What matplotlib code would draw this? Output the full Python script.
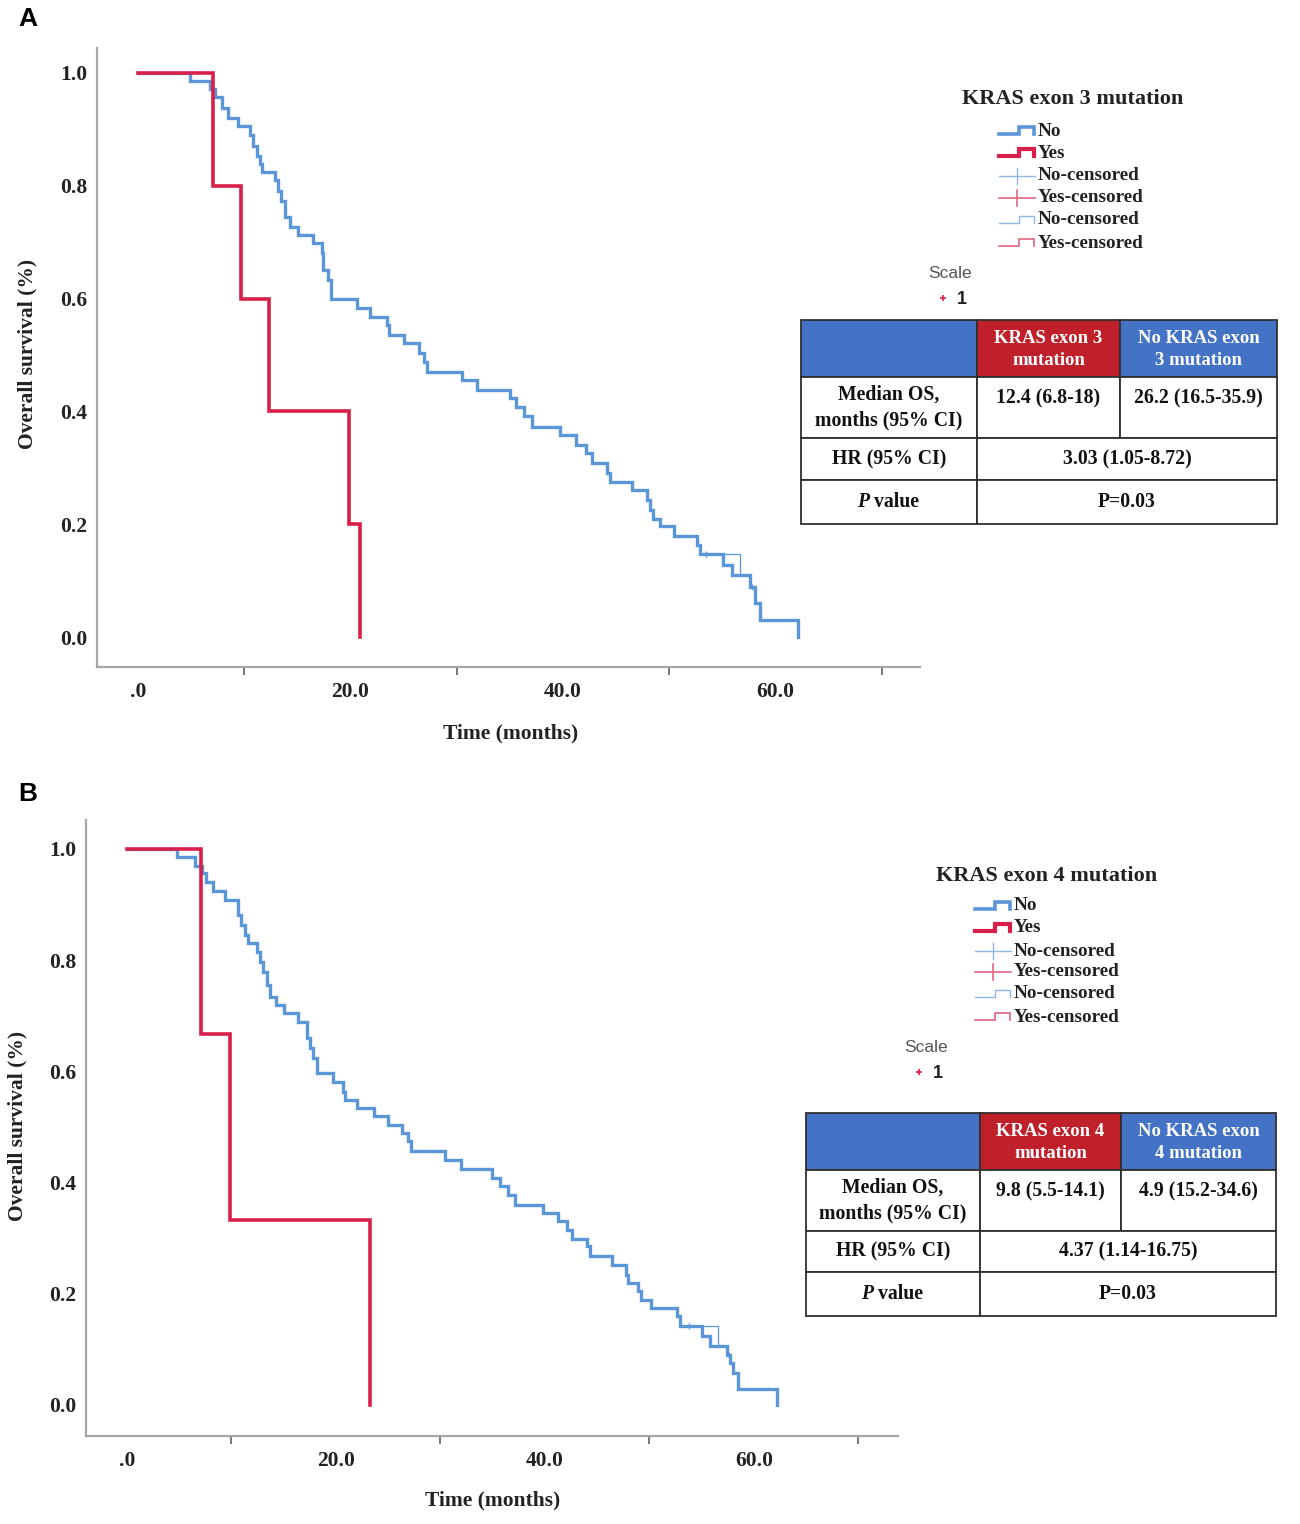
import matplotlib
matplotlib.use('Agg')
import matplotlib.pyplot as plt
from matplotlib.patches import Rectangle

plt.rcParams['font.family'] = ['Liberation Serif', 'DejaVu Serif']

BLUE = '#5a96d8'
RED = '#d9204a'
BLUE_LT = '#8fb7e6'
RED_LT = '#e3637f'
TBL_BLUE = '#4472c4'
TBL_RED = '#c0202a'
SPINE = '#a6a6a6'

##############
# data
##############
# panel A, KRAS exon 3
a_yes_time = [7.1, 9.7, 12.3, 19.9, 20.9]
a_yes_surv = [0.8, 0.6, 0.4, 0.2, 0.0]
a_no_time = [4.9, 6.8, 7.25, 7.9, 8.5, 9.4, 10.5, 10.85, 11.2, 11.5, 11.65, 12.9, 13.2, 13.5,
             13.85, 14.3, 15.1, 16.5, 17.3, 17.45, 17.9, 18.2, 20.6, 21.8, 23.4, 23.6, 25.0,
             26.4, 26.9, 27.2, 30.5, 31.9, 35.0, 35.6, 36.3, 37.1, 39.7, 41.2, 42.2, 42.7,
             44.1, 44.4, 46.5, 47.9, 48.2, 48.5, 49.1, 50.4, 52.6, 52.9, 55.1, 55.9, 57.6,
             58.1, 58.5, 62.1]
a_no_surv = [0.986, 0.971, 0.957, 0.938, 0.920, 0.906, 0.890, 0.871, 0.853, 0.838, 0.825,
             0.810, 0.790, 0.772, 0.745, 0.727, 0.713, 0.698, 0.680, 0.651, 0.633, 0.600,
             0.583, 0.568, 0.553, 0.535, 0.521, 0.503, 0.488, 0.470, 0.455, 0.438, 0.423,
             0.408, 0.391, 0.373, 0.358, 0.340, 0.326, 0.308, 0.291, 0.275, 0.261, 0.243,
             0.225, 0.210, 0.196, 0.179, 0.163, 0.147, 0.128, 0.110, 0.089, 0.060, 0.030, 0.0]
a_thin_time = [55.1, 56.7, 56.7]
a_thin_surv = [0.147, 0.147, 0.110]
a_cens_time = [53.5, 57.8]
a_cens_surv = [0.147, 0.089]

# panel B, KRAS exon 4
b_yes_time = [7.1, 9.9, 23.3]
b_yes_surv = [0.667, 0.333, 0.0]
b_no_time = [4.75, 6.5, 7.15, 7.6, 8.25, 9.4, 10.65, 10.95, 11.3, 11.6, 12.4, 12.7, 13.0, 13.4,
             13.7, 14.3, 15.0, 16.4, 17.2, 17.5, 17.8, 18.2, 19.7, 20.7, 20.9, 22.0, 23.6,
             25.0, 26.3, 26.9, 27.2, 30.4, 32.0, 34.9, 35.7, 36.5, 37.1, 39.8, 41.3, 42.1,
             42.6, 44.0, 44.3, 46.4, 47.8, 48.0, 48.9, 49.2, 50.2, 52.6, 52.9, 55.0, 55.8,
             57.4, 57.7, 58.0, 58.5, 62.2]
b_no_surv = [0.986, 0.970, 0.956, 0.941, 0.924, 0.908, 0.882, 0.863, 0.845, 0.830, 0.815,
             0.797, 0.779, 0.755, 0.734, 0.719, 0.704, 0.689, 0.659, 0.642, 0.624, 0.597,
             0.581, 0.563, 0.549, 0.534, 0.519, 0.504, 0.489, 0.474, 0.456, 0.441, 0.424,
             0.408, 0.393, 0.378, 0.360, 0.345, 0.330, 0.315, 0.298, 0.285, 0.268, 0.252,
             0.234, 0.219, 0.204, 0.189, 0.174, 0.159, 0.142, 0.124, 0.106, 0.090, 0.075,
             0.057, 0.028, 0.0]
b_thin_time = [55.0, 56.6, 56.6]
b_thin_surv = [0.142, 0.142, 0.106]
b_cens_time = [53.8, 57.6]
b_cens_surv = [0.142, 0.090]

x_label_ticks = [0, 20, 40, 60]
x_tick_labels = ['.0', '20.0', '40.0', '60.0']
x_mark_ticks = [10, 30, 50, 70]
y_ticks = [0.0, 0.2, 0.4, 0.6, 0.8, 1.0]
y_tick_labels = ['0.0', '0.2', '0.4', '0.6', '0.8', '1.0']

legend_labels = ['No', 'Yes', 'No-censored', 'Yes-censored', 'No-censored', 'Yes-censored']

a_title = 'KRAS exon 3 mutation'
a_head = ['KRAS exon 3\nmutation', 'No KRAS exon\n3 mutation']
a_median = ['12.4 (6.8-18)', '26.2 (16.5-35.9)']
a_hr = '3.03 (1.05-8.72)'
a_p = 'P=0.03'

b_title = 'KRAS exon 4 mutation'
b_head = ['KRAS exon 4\nmutation', 'No KRAS exon\n4 mutation']
b_median = ['9.8 (5.5-14.1)', '4.9 (15.2-34.6)']
b_hr = '4.37 (1.14-16.75)'
b_p = 'P=0.03'


def draw_km(ax, no_t, no_s, yes_t, yes_s, thin_t, thin_s, cens_t, cens_s, xlim, ylim, lab_x, lab_y):
    ax.step([0] + no_t, [1.0] + no_s, where='post', color=BLUE, lw=2.4, solid_joinstyle='miter')
    ax.plot(thin_t, thin_s, color=BLUE, lw=0.9)
    ax.plot(cens_t, cens_s, ls='none', marker='|', ms=5, mew=1.0, color=BLUE)
    ax.step([0] + yes_t, [1.0] + yes_s, where='post', color=RED, lw=2.6, solid_joinstyle='miter')
    ax.set_xlim(*xlim)
    ax.set_ylim(*ylim)
    for s in ['top', 'right']:
        ax.spines[s].set_visible(False)
    for s in ['left', 'bottom']:
        ax.spines[s].set_color(SPINE)
        ax.spines[s].set_linewidth(1.6)
    ax.set_xticks(x_label_ticks)
    ax.set_xticklabels(x_tick_labels)
    ax.set_xticks(x_mark_ticks, minor=True)
    ax.tick_params(axis='x', which='major', length=0, pad=11, labelsize=15.5)
    ax.tick_params(axis='x', which='minor', length=6, width=1.4, color='#777777', direction='out')
    ax.set_yticks(y_ticks)
    ax.set_yticklabels(y_tick_labels)
    ax.tick_params(axis='y', length=0, pad=7, labelsize=15.5)
    for t in ax.get_xticklabels() + ax.get_yticklabels():
        t.set_fontweight('bold')
        t.set_color('#222222')
    ax.set_xlabel('Time (months)', fontsize=15.5, fontweight='bold', color='#222222')
    ax.set_ylabel('Overall survival (%)', fontsize=15.5, fontweight='bold', color='#222222')
    ax.xaxis.set_label_coords(lab_x[0], lab_x[1])
    ax.xaxis.label.set_va('center')
    ax.yaxis.set_label_coords(lab_y[0], lab_y[1])
    ax.yaxis.label.set_va('center')


def draw_legend(ov, title, tx, ty, ix, rows, sx, sy):
    ov.text(tx, ty, title, ha='center', va='center', fontsize=16, fontweight='bold', color='#222222')
    styles = [(BLUE, 2.6, 'step'), (RED, 3.0, 'step'), (BLUE_LT, 1.0, 'plus'),
              (RED_LT, 1.2, 'plus'), (BLUE_LT, 1.0, 'step'), (RED_LT, 1.2, 'step')]
    for lab, y, (c, lw, kind) in zip(legend_labels, rows, styles):
        if kind == 'step':
            ov.plot([ix, ix + 20, ix + 20, ix + 35, ix + 35], [y + 3, y + 3, y - 4, y - 4, y + 3],
                    color=c, lw=lw, solid_joinstyle='miter')
        else:
            ov.plot([ix, ix + 36], [y, y], color=c, lw=lw)
            ov.plot([ix + 18, ix + 18], [y - 8, y + 8], color=c, lw=lw)
        ov.text(ix + 39, y, lab, ha='left', va='center', fontsize=13.8, fontweight='bold', color='#222222')
    ov.text(sx, sy, 'Scale', ha='center', va='center', fontsize=12.5,
            family=['Liberation Sans', 'DejaVu Sans'], color='#555555')
    ov.plot([sx - 7], [sy + 24], marker='+', ms=5, mew=1.2, color=RED)
    ov.text(sx + 7, sy + 25, '1', ha='left', va='center', fontsize=13, fontweight='bold',
            family=['Liberation Sans', 'DejaVu Sans'], color='#222222')


def draw_table(ov, cols, rows, head, median, hr, pval, p_split):
    x0, x1, x2, x3 = cols
    y0, y1, y2, y3, y4 = rows
    ec = '#2f2f2f'
    ov.add_patch(Rectangle((x0, y0), x1 - x0, y1 - y0, fc=TBL_BLUE, ec=ec, lw=1.3))
    ov.add_patch(Rectangle((x1, y0), x2 - x1, y1 - y0, fc=TBL_RED, ec=ec, lw=1.3))
    ov.add_patch(Rectangle((x2, y0), x3 - x2, y1 - y0, fc=TBL_BLUE, ec=ec, lw=1.3))
    ov.add_patch(Rectangle((x0, y1), x1 - x0, y2 - y1, fc='white', ec=ec, lw=1.3))
    ov.add_patch(Rectangle((x1, y1), x2 - x1, y2 - y1, fc='white', ec=ec, lw=1.3))
    ov.add_patch(Rectangle((x2, y1), x3 - x2, y2 - y1, fc='white', ec=ec, lw=1.3))
    for ya, yb in [(y2, y3), (y3, y4)]:
        ov.add_patch(Rectangle((x0, ya), x1 - x0, yb - ya, fc='white', ec=ec, lw=1.3))
        ov.add_patch(Rectangle((x1, ya), x3 - x1, yb - ya, fc='white', ec=ec, lw=1.3))
    c0, c1, c2, c12 = (x0 + x1) / 2, (x1 + x2) / 2, (x2 + x3) / 2, (x1 + x3) / 2
    kw = dict(ha='center', va='center', fontweight='bold', fontsize=13.5, linespacing=1.45)
    ov.text(c1, (y0 + y1) / 2 + 1, head[0], color='white', **kw)
    ov.text(c2, (y0 + y1) / 2 + 1, head[1], color='white', **kw)
    kw['fontsize'] = 14.2
    kw['color'] = '#111111'
    kw['linespacing'] = 1.35
    ov.text(c0, (y1 + y2) / 2, 'Median OS,\nmonths (95% CI)', **kw)
    kw_top = dict(kw)
    kw_top['va'] = 'top'
    ov.text(c1, y1 + 11, median[0], **kw_top)
    ov.text(c2, y1 + 11, median[1], **kw_top)
    ov.text(c0, (y2 + y3) / 2, 'HR (95% CI)', **kw)
    ov.text(c12, (y2 + y3) / 2, hr, **kw)
    ov.text(p_split, (y3 + y4) / 2, 'P', ha='right', va='center', fontsize=14.2,
            fontweight='bold', style='italic', color='#111111')
    ov.text(p_split + 5, (y3 + y4) / 2, 'value', ha='left', va='center', fontsize=14.2,
            fontweight='bold', color='#111111')
    ov.text(c12, (y3 + y4) / 2, pval, **kw)


fig = plt.figure(figsize=[13, 15.24], dpi=100)

axA = fig.add_axes([97 / 1300, 1 - 667 / 1524, 823 / 1300, 619 / 1524])
draw_km(axA, a_no_time, a_no_surv, a_yes_time, a_yes_surv, a_thin_time, a_thin_surv,
        a_cens_time, a_cens_surv, (-3.86, 73.6), (-0.053, 1.044), (0.502, -0.108), (-0.084, 0.506))

axB = fig.add_axes([86 / 1300, 1 - 1436 / 1524, 812 / 1300, 616 / 1524])
draw_km(axB, b_no_time, b_no_surv, b_yes_time, b_yes_surv, b_thin_time, b_thin_surv,
        b_cens_time, b_cens_surv, (-3.92, 73.8), (-0.056, 1.052), (0.501, -0.104), (-0.084, 0.503))

# overlay in pixel coords for panel letters, legends and tables
ov = fig.add_axes([0, 0, 1, 1], zorder=5)
ov.set_xlim(0, 1300)
ov.set_ylim(1524, 0)
ov.axis('off')
ov.patch.set_alpha(0)

ov.text(28, 19, 'A', ha='center', va='center', fontsize=19, fontweight='bold',
        family=['Liberation Sans', 'DejaVu Sans'])
ov.text(28, 794, 'B', ha='center', va='center', fontsize=19, fontweight='bold',
        family=['Liberation Sans', 'DejaVu Sans'])

draw_legend(ov, a_title, 1073, 99, 999, [131, 153, 176, 198, 220, 243], 950, 274)
draw_legend(ov, b_title, 1047, 876, 975, [906, 928, 951, 972, 994, 1017], 926, 1048)

draw_table(ov, (801, 977, 1120, 1277), (320, 377, 438, 480, 524), a_head, a_median, a_hr, a_p, 869)
draw_table(ov, (806, 980, 1121, 1276), (1113, 1170, 1231, 1272, 1316), b_head, b_median, b_hr, b_p, 873)

plt.savefig('out.png', dpi=100)
